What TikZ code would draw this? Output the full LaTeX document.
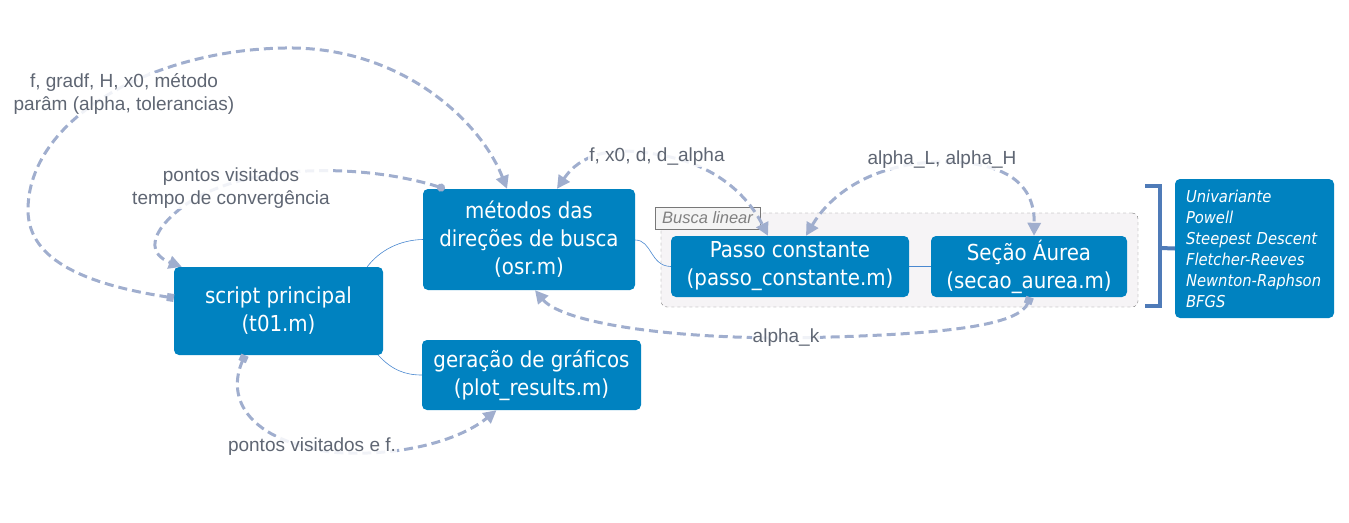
\documentclass[tikz,border=0pt]{standalone}
\usepackage{fontspec}
\setmainfont{Liberation Sans}
\newfontfamily\nodefont{DejaVu Sans Condensed}
\usetikzlibrary{arrows.meta,calc}
\definecolor{boxblue}{RGB}{0,130,192}
\definecolor{relcol}{RGB}{160,174,206}
\definecolor{labcol}{RGB}{95,102,115}
\definecolor{thinblue}{RGB}{74,136,208}
\definecolor{brcol}{RGB}{79,123,184}
\definecolor{grpfill}{RGB}{246,244,246}
\definecolor{grpline}{RGB}{120,120,120}
\tikzset{
  topic/.style={draw=none,fill=boxblue,rounded corners=5pt,text=white,align=center,
    font=\nodefont\fontsize{22}{28}\selectfont,inner sep=0pt},
  rel/.style={draw=relcol,line width=3pt,dash pattern=on 9pt off 5pt},
  tri/.tip={Triangle[length=13pt,width=13pt]},
  sq/.tip={Square[length=7pt,width=8pt]},
  dot/.tip={Circle[length=8pt]},
  rellabel/.style={text=labcol,font=\fontsize{19}{23}\selectfont,align=center,
    fill=white,fill opacity=0.85,text opacity=1,inner sep=1pt},
  thin/.style={draw=thinblue,line width=0.6pt},
}
\begin{document}
\begin{tikzpicture}[x=1pt,y=-1pt]
\useasboundingbox (0,0) rectangle (1349,522);
% group container
\node[draw=grpline,dashed,fill=grpfill,rounded corners=6pt,minimum width=477pt,minimum height=94pt,inner sep=0pt] (grp) at (899.5,260) {};
\node[draw=grpline,fill=grpfill!85!gray!40,minimum width=105pt,minimum height=22pt,inner sep=0pt,
  text=gray,font=\itshape\fontsize{16.5}{18}\selectfont] (grplab) at (707.5,218) {Busca linear};
% topics
\node[topic,minimum width=209pt,minimum height=88pt] (sp) at (278.5,311) {script principal\\(t01.m)};
\node[topic,minimum width=212pt,minimum height=101pt] (osr) at (529,239.5) {métodos das\\direções de busca\\(osr.m)};
\node[topic,minimum width=219pt,minimum height=70pt] (plot) at (531.5,375) {geração de gráficos\\(plot\_results.m)};
\node[topic,minimum width=238pt,minimum height=61pt] (passo) at (790,266.5) {Passo constante\\(passo\_constante.m)};
\node[topic,minimum width=196pt,minimum height=61pt] (secao) at (1029,266.5) {Seção Áurea\\(secao\_aurea.m)};
\node[topic,minimum width=159pt,minimum height=139pt,align=left,text width=137pt,
  font=\nodefont\itshape\fontsize{16.4}{21}\selectfont] (list) at (1254.5,248.5)
  {Univariante\\Powell\\Steepest Descent\\Fletcher-Reeves\\Newnton-Raphson\\BFGS};
% bracket
\draw[brcol,line width=4pt] (1145,186) -- (1160,186) -- (1160,306) -- (1145,306);
\coordinate (brmid) at (1160,248);
\draw[brcol,line width=4pt] (brmid) -- (list.west);
% thin connectors
\draw[thin] ([xshift=-16pt]sp.north east) .. controls (380,250) and (400,240) .. (osr.west);
\draw[thin] ([xshift=-5pt]sp.south east) .. controls (392,370) and (405,375) .. (plot.west);
\draw[thin] ([yshift=-0.5pt]osr.east) .. controls (652,240) and (650,266) .. (passo.west);
\draw[thin] (passo.east) -- (secao.west);
% relationship 1
\draw[rel,{sq}-{tri}] ([yshift=13pt]sp.west) .. controls (90,285) and (28,262) .. (28,210)
  .. controls (28,120) and (150,50) .. (285,48) .. controls (400,46) and (480,120) .. ([xshift=-22pt]osr.north);
\node[rellabel] (l1) at (124,94) {f, gradf, H, x0, método\\parâm (alpha, tolerancias)};
% relationship 2
\draw[rel,{dot}-{tri}] ([xshift=22pt]osr.north west) .. controls (370,165) and (250,160) .. (185,205)
  .. controls (145,235) and (150,255) .. ([xshift=8pt]sp.north west);
\node[rellabel] (l2) at (231,188) {pontos visitados\\tempo de convergência};
% relationship 3
\draw[rel,{tri}-{tri}] ([xshift=28pt]osr.north) .. controls (580,155) and (610,145) .. (660,155)
  .. controls (720,165) and (750,200) .. ([xshift=-22pt]passo.north);
\node[rellabel] (l3) at (657,157) {f, x0, d, d\_alpha};
% relationship 4
\draw[rel,{tri}-{tri}] ([xshift=16pt]passo.north) .. controls (830,195) and (870,165) .. (935,162)
  .. controls (1000,160) and (1035,180) .. ([xshift=5pt]secao.north);
\node[rellabel] (l4) at (942,160) {alpha\_L, alpha\_H};
% relationship 5
\draw[rel,{sq}-{tri}] ([xshift=1pt]secao.south) .. controls (1020,325) and (950,335) .. (790,338)
  .. controls (650,338) and (560,320) .. ([xshift=6pt]osr.south);
\node[rellabel] (l5) at (786,338) {alpha\_k};
% relationship 6
\draw[rel,{sq}-{tri}] ([xshift=-33.5pt]sp.south) .. controls (225,400) and (250,440) .. (330,452)
  .. controls (400,458) and (460,440) .. ([xshift=-35pt]plot.south);
\node[rellabel] (l6) at (312,447) {pontos visitados e f.};
\end{tikzpicture}
\end{document}
